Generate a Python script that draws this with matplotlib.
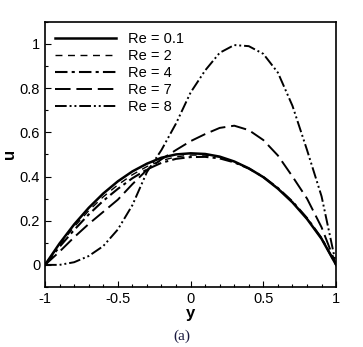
import numpy as np
import matplotlib.pyplot as plt
from matplotlib.ticker import MultipleLocator

plt.rcParams['font.family'] = ['Liberation Sans', 'DejaVu Sans']

# channel coordinate
y = [-1.0, -0.9, -0.8, -0.7, -0.6, -0.5, -0.4, -0.3, -0.2, -0.1, 0.0,
     0.1, 0.2, 0.3, 0.4, 0.5, 0.6, 0.7, 0.8, 0.9, 1.0]

# velocity profiles
u_re01 = [0, 0.097, 0.183, 0.258, 0.323, 0.378, 0.423, 0.458, 0.485, 0.500, 0.505,
          0.502, 0.490, 0.468, 0.437, 0.397, 0.345, 0.283, 0.208, 0.118, 0]
u_re2 = [0, 0.090, 0.172, 0.245, 0.308, 0.362, 0.408, 0.445, 0.472, 0.489, 0.497,
         0.497, 0.488, 0.467, 0.437, 0.397, 0.346, 0.284, 0.209, 0.119, 0]
u_re4 = [0, 0.082, 0.158, 0.228, 0.290, 0.344, 0.392, 0.432, 0.462, 0.480, 0.488,
         0.489, 0.482, 0.464, 0.436, 0.398, 0.348, 0.287, 0.212, 0.121, 0]
u_re7 = [0, 0.060, 0.125, 0.185, 0.240, 0.295, 0.365, 0.430, 0.478, 0.520, 0.560,
         0.592, 0.620, 0.630, 0.610, 0.565, 0.495, 0.400, 0.300, 0.170, 0]
u_re8 = [0, 0.0, 0.012, 0.040, 0.085, 0.160, 0.270, 0.420, 0.520, 0.640, 0.780,
         0.880, 0.960, 0.995, 0.990, 0.955, 0.870, 0.720, 0.520, 0.310, 0]

labels = ['Re = 0.1', 'Re = 2', 'Re = 4', 'Re = 7', 'Re = 8']
series = [u_re01, u_re2, u_re4, u_re7, u_re8]
styles = ['-', (0, (5, 4)), (0, (6, 2, 1.5, 2)), (0, (8, 3)), (0, (6, 1.5, 1, 1.5, 1, 1.5))]
widths = [1.8, 1.0, 1.5, 1.4, 1.4]

fig = plt.figure(figsize=(3.63, 3.47), dpi=100)
ax = fig.add_axes([0.124, 0.173, 0.802, 0.764])

for u, lab, ls, lw in zip(series, labels, styles, widths):
    ax.plot(y, u, color='black', linestyle=ls, linewidth=lw, label=lab)

ax.set_xlim(-1, 1)
ax.set_ylim(-0.1, 1.1)
ax.xaxis.set_minor_locator(MultipleLocator(0.1))
ax.yaxis.set_minor_locator(MultipleLocator(0.1))
ax.set_xticks([-1, -0.5, 0, 0.5, 1])
ax.set_xticklabels(['-1', '-0.5', '0', '0.5', '1'])
ax.set_yticks([0, 0.2, 0.4, 0.6, 0.8, 1.0])
ax.set_yticklabels(['0', '0.2', '0.4', '0.6', '0.8', '1'])
ax.tick_params(which='both', direction='in', labelsize=10.5, width=0.8)
ax.tick_params(which='major', length=4)
ax.tick_params(which='minor', length=2.5)
for s in ax.spines.values():
    s.set_linewidth(1.2)

ax.set_xlabel('y', fontsize=12, fontweight='bold', labelpad=0)
ax.set_ylabel('u', fontsize=12, fontweight='bold', labelpad=2)

ax.legend(loc='upper left', frameon=False, fontsize=10.5, handlelength=4.2,
          handletextpad=0.8, labelspacing=0.2, borderaxespad=0.3)

fig.text(0.5, 0.03, '(a)', ha='center', va='center', fontsize=11,
         family='Liberation Serif', color='#1a1a40')

fig.savefig('out.png', dpi=100)
